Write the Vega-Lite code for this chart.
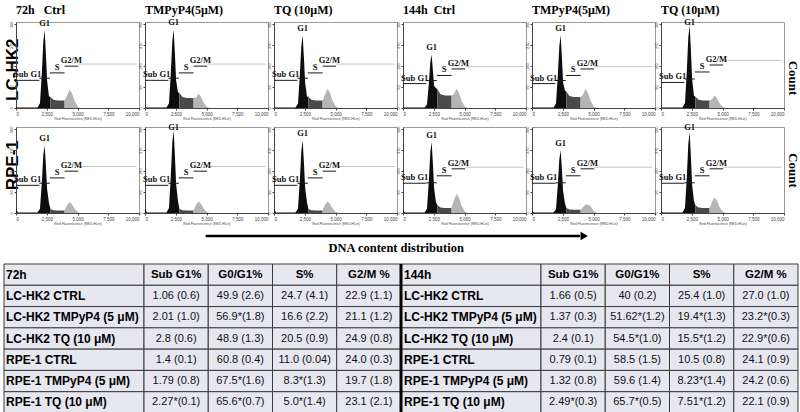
{
"$schema":"https://vega.github.io/schema/vega-lite/v6.json",
"padding":{"left":3,"top":4,"right":0,"bottom":0},
"config":{"view":{"stroke":null},"font":"Liberation Sans"},
"spacing":4,
"datasets":{
"T72":[
{"r":0,"c":"L","v":"72h"},{"r":0,"c":"1","v":"Sub G1%"},{"r":0,"c":"2","v":"G0/G1%"},{"r":0,"c":"3","v":"S%"},{"r":0,"c":"4","v":"G2/M %"},
{"r":1,"c":"L","v":"LC-HK2 CTRL"},{"r":1,"c":"1","v":"1.06 (0.6)"},{"r":1,"c":"2","v":"49.9 (2.6)"},{"r":1,"c":"3","v":"24.7 (4.1)"},{"r":1,"c":"4","v":"22.9 (1.1)"},
{"r":2,"c":"L","v":"LC-HK2 TMPyP4 (5 μM)"},{"r":2,"c":"1","v":"2.01 (1.0)"},{"r":2,"c":"2","v":"56.9*(1.8)"},{"r":2,"c":"3","v":"16.6 (2.2)"},{"r":2,"c":"4","v":"21.1 (1.2)"},
{"r":3,"c":"L","v":"LC-HK2 TQ (10 μM)"},{"r":3,"c":"1","v":"2.8 (0.6)"},{"r":3,"c":"2","v":"48.9 (1.3)"},{"r":3,"c":"3","v":"20.5 (0.9)"},{"r":3,"c":"4","v":"24.9 (0.8)"},
{"r":4,"c":"L","v":"RPE-1 CTRL"},{"r":4,"c":"1","v":"1.4 (0.1)"},{"r":4,"c":"2","v":"60.8 (0.4)"},{"r":4,"c":"3","v":"11.0 (0.04)"},{"r":4,"c":"4","v":"24.0 (0.3)"},
{"r":5,"c":"L","v":"RPE-1 TMPyP4 (5 μM)"},{"r":5,"c":"1","v":"1.79 (0.8)"},{"r":5,"c":"2","v":"67.5*(1.6)"},{"r":5,"c":"3","v":"8.3*(1.3)"},{"r":5,"c":"4","v":"19.7 (1.8)"},
{"r":6,"c":"L","v":"RPE-1 TQ (10 μM)"},{"r":6,"c":"1","v":"2.27*(0.1)"},{"r":6,"c":"2","v":"65.6*(0.7)"},{"r":6,"c":"3","v":"5.0*(1.4)"},{"r":6,"c":"4","v":"23.1 (2.1)"}
],
"T144":[
{"r":0,"c":"L","v":"144h"},{"r":0,"c":"1","v":"Sub G1%"},{"r":0,"c":"2","v":"G0/G1%"},{"r":0,"c":"3","v":"S%"},{"r":0,"c":"4","v":"G2/M %"},
{"r":1,"c":"L","v":"LC-HK2 CTRL"},{"r":1,"c":"1","v":"1.66 (0.5)"},{"r":1,"c":"2","v":"40 (0.2)"},{"r":1,"c":"3","v":"25.4 (1.0)"},{"r":1,"c":"4","v":"27.0 (1.0)"},
{"r":2,"c":"L","v":"LC-HK2 TMPyP4 (5 μM)"},{"r":2,"c":"1","v":"1.37 (0.3)"},{"r":2,"c":"2","v":"51.62*(1.2)"},{"r":2,"c":"3","v":"19.4*(1.3)"},{"r":2,"c":"4","v":"23.2*(0.3)"},
{"r":3,"c":"L","v":"LC-HK2 TQ (10 μM)"},{"r":3,"c":"1","v":"2.4 (0.1)"},{"r":3,"c":"2","v":"54.5*(1.0)"},{"r":3,"c":"3","v":"15.5*(1.2)"},{"r":3,"c":"4","v":"22.9*(0.6)"},
{"r":4,"c":"L","v":"RPE-1 CTRL"},{"r":4,"c":"1","v":"0.79 (0.1)"},{"r":4,"c":"2","v":"58.5 (1.5)"},{"r":4,"c":"3","v":"10.5 (0.8)"},{"r":4,"c":"4","v":"24.1 (0.9)"},
{"r":5,"c":"L","v":"RPE-1 TMPyP4 (5 μM)"},{"r":5,"c":"1","v":"1.32 (0.8)"},{"r":5,"c":"2","v":"59.6 (1.4)"},{"r":5,"c":"3","v":"8.23*(1.4)"},{"r":5,"c":"4","v":"24.2 (0.6)"},
{"r":6,"c":"L","v":"RPE-1 TQ (10 μM)"},{"r":6,"c":"1","v":"2.49*(0.3)"},{"r":6,"c":"2","v":"65.7*(0.5)"},{"r":6,"c":"3","v":"7.51*(1.2)"},{"r":6,"c":"4","v":"22.1 (0.9)"}
]
},
"vconcat":[
{
"hconcat":[
{
"width":12,"height":191,
"data":{"values":[{"r":"LC-HK2"},{"r":"RPE-1"}]},
"mark":{"type":"text","angle":-90,"align":"center","baseline":"middle","dy":2.5,"font":"Liberation Sans","fontSize":17,"fontWeight":"bold","color":"#000"},
"encoding":{"y":{"field":"r","type":"ordinal","axis":null,"scale":{"paddingInner":0.2,"paddingOuter":0}},"text":{"field":"r"}}
},
{
"data":{"values":[
{"k":"h","p":"A","r":"LC-HK2","x":0,"y":3,"c":"a"},{"k":"h","p":"A","r":"LC-HK2","x":150,"y":2,"c":"a"},{"k":"h","p":"A","r":"LC-HK2","x":1750,"y":2,"c":"a"},{"k":"h","p":"A","r":"LC-HK2","x":1950,"y":20,"c":"a"},{"k":"h","p":"A","r":"LC-HK2","x":2100,"y":151,"c":"a"},{"k":"h","p":"A","r":"LC-HK2","x":2220,"y":285,"c":"a"},{"k":"h","p":"A","r":"LC-HK2","x":2330,"y":335,"c":"a"},{"k":"h","p":"A","r":"LC-HK2","x":2430,"y":235,"c":"a"},{"k":"h","p":"A","r":"LC-HK2","x":2530,"y":117,"c":"a"},{"k":"h","p":"A","r":"LC-HK2","x":2680,"y":50,"c":"a"},{"k":"h","p":"A","r":"LC-HK2","x":2800,"y":48,"c":"a"},
{"k":"h","p":"A","r":"LC-HK2","x":2800,"y":48,"c":"b"},{"k":"h","p":"A","r":"LC-HK2","x":3050,"y":35,"c":"b"},{"k":"h","p":"A","r":"LC-HK2","x":3400,"y":32,"c":"b"},{"k":"h","p":"A","r":"LC-HK2","x":3950,"y":32,"c":"b"},
{"k":"h","p":"A","r":"LC-HK2","x":3950,"y":32,"c":"c"},{"k":"h","p":"A","r":"LC-HK2","x":4150,"y":55,"c":"c"},{"k":"h","p":"A","r":"LC-HK2","x":4350,"y":79,"c":"c"},{"k":"h","p":"A","r":"LC-HK2","x":4550,"y":63,"c":"c"},{"k":"h","p":"A","r":"LC-HK2","x":4750,"y":32,"c":"c"},{"k":"h","p":"A","r":"LC-HK2","x":5000,"y":8,"c":"c"},{"k":"h","p":"A","r":"LC-HK2","x":5250,"y":0,"c":"c"},

{"k":"h","p":"B","r":"LC-HK2","x":0,"y":3,"c":"a"},{"k":"h","p":"B","r":"LC-HK2","x":150,"y":2,"c":"a"},{"k":"h","p":"B","r":"LC-HK2","x":1750,"y":2,"c":"a"},{"k":"h","p":"B","r":"LC-HK2","x":1950,"y":20,"c":"a"},{"k":"h","p":"B","r":"LC-HK2","x":2100,"y":152,"c":"a"},{"k":"h","p":"B","r":"LC-HK2","x":2220,"y":287,"c":"a"},{"k":"h","p":"B","r":"LC-HK2","x":2330,"y":338,"c":"a"},{"k":"h","p":"B","r":"LC-HK2","x":2430,"y":237,"c":"a"},{"k":"h","p":"B","r":"LC-HK2","x":2530,"y":118,"c":"a"},{"k":"h","p":"B","r":"LC-HK2","x":2680,"y":68,"c":"a"},{"k":"h","p":"B","r":"LC-HK2","x":2800,"y":65,"c":"a"},
{"k":"h","p":"B","r":"LC-HK2","x":2800,"y":65,"c":"b"},{"k":"h","p":"B","r":"LC-HK2","x":3050,"y":47,"c":"b"},{"k":"h","p":"B","r":"LC-HK2","x":3400,"y":43,"c":"b"},{"k":"h","p":"B","r":"LC-HK2","x":3950,"y":43,"c":"b"},
{"k":"h","p":"B","r":"LC-HK2","x":3950,"y":43,"c":"c"},{"k":"h","p":"B","r":"LC-HK2","x":4150,"y":45,"c":"c"},{"k":"h","p":"B","r":"LC-HK2","x":4350,"y":61,"c":"c"},{"k":"h","p":"B","r":"LC-HK2","x":4550,"y":49,"c":"c"},{"k":"h","p":"B","r":"LC-HK2","x":4750,"y":24,"c":"c"},{"k":"h","p":"B","r":"LC-HK2","x":5000,"y":6,"c":"c"},{"k":"h","p":"B","r":"LC-HK2","x":5250,"y":0,"c":"c"},

{"k":"h","p":"C","r":"LC-HK2","x":0,"y":3,"c":"a"},{"k":"h","p":"C","r":"LC-HK2","x":150,"y":2,"c":"a"},{"k":"h","p":"C","r":"LC-HK2","x":1750,"y":2,"c":"a"},{"k":"h","p":"C","r":"LC-HK2","x":1950,"y":19,"c":"a"},{"k":"h","p":"C","r":"LC-HK2","x":2100,"y":141,"c":"a"},{"k":"h","p":"C","r":"LC-HK2","x":2220,"y":266,"c":"a"},{"k":"h","p":"C","r":"LC-HK2","x":2330,"y":313,"c":"a"},{"k":"h","p":"C","r":"LC-HK2","x":2430,"y":219,"c":"a"},{"k":"h","p":"C","r":"LC-HK2","x":2530,"y":110,"c":"a"},{"k":"h","p":"C","r":"LC-HK2","x":2680,"y":50,"c":"a"},{"k":"h","p":"C","r":"LC-HK2","x":2800,"y":48,"c":"a"},
{"k":"h","p":"C","r":"LC-HK2","x":2800,"y":48,"c":"b"},{"k":"h","p":"C","r":"LC-HK2","x":3050,"y":35,"c":"b"},{"k":"h","p":"C","r":"LC-HK2","x":3400,"y":32,"c":"b"},{"k":"h","p":"C","r":"LC-HK2","x":3950,"y":32,"c":"b"},
{"k":"h","p":"C","r":"LC-HK2","x":3950,"y":32,"c":"c"},{"k":"h","p":"C","r":"LC-HK2","x":4150,"y":58,"c":"c"},{"k":"h","p":"C","r":"LC-HK2","x":4350,"y":83,"c":"c"},{"k":"h","p":"C","r":"LC-HK2","x":4550,"y":66,"c":"c"},{"k":"h","p":"C","r":"LC-HK2","x":4750,"y":33,"c":"c"},{"k":"h","p":"C","r":"LC-HK2","x":5000,"y":8,"c":"c"},{"k":"h","p":"C","r":"LC-HK2","x":5250,"y":0,"c":"c"},

{"k":"h","p":"D","r":"LC-HK2","x":0,"y":3,"c":"a"},{"k":"h","p":"D","r":"LC-HK2","x":150,"y":2,"c":"a"},{"k":"h","p":"D","r":"LC-HK2","x":1750,"y":2,"c":"a"},{"k":"h","p":"D","r":"LC-HK2","x":1950,"y":14,"c":"a"},{"k":"h","p":"D","r":"LC-HK2","x":2100,"y":104,"c":"a"},{"k":"h","p":"D","r":"LC-HK2","x":2220,"y":196,"c":"a"},{"k":"h","p":"D","r":"LC-HK2","x":2330,"y":230,"c":"a"},{"k":"h","p":"D","r":"LC-HK2","x":2430,"y":161,"c":"a"},{"k":"h","p":"D","r":"LC-HK2","x":2530,"y":95,"c":"a"},{"k":"h","p":"D","r":"LC-HK2","x":2680,"y":86,"c":"a"},{"k":"h","p":"D","r":"LC-HK2","x":2800,"y":81,"c":"a"},
{"k":"h","p":"D","r":"LC-HK2","x":2800,"y":81,"c":"b"},{"k":"h","p":"D","r":"LC-HK2","x":3050,"y":59,"c":"b"},{"k":"h","p":"D","r":"LC-HK2","x":3400,"y":54,"c":"b"},{"k":"h","p":"D","r":"LC-HK2","x":3950,"y":54,"c":"b"},
{"k":"h","p":"D","r":"LC-HK2","x":3950,"y":54,"c":"c"},{"k":"h","p":"D","r":"LC-HK2","x":4150,"y":60,"c":"c"},{"k":"h","p":"D","r":"LC-HK2","x":4350,"y":83,"c":"c"},{"k":"h","p":"D","r":"LC-HK2","x":4550,"y":66,"c":"c"},{"k":"h","p":"D","r":"LC-HK2","x":4750,"y":33,"c":"c"},{"k":"h","p":"D","r":"LC-HK2","x":5000,"y":8,"c":"c"},{"k":"h","p":"D","r":"LC-HK2","x":5250,"y":0,"c":"c"},

{"k":"h","p":"E","r":"LC-HK2","x":0,"y":3,"c":"a"},{"k":"h","p":"E","r":"LC-HK2","x":150,"y":2,"c":"a"},{"k":"h","p":"E","r":"LC-HK2","x":1750,"y":2,"c":"a"},{"k":"h","p":"E","r":"LC-HK2","x":1950,"y":19,"c":"a"},{"k":"h","p":"E","r":"LC-HK2","x":2100,"y":141,"c":"a"},{"k":"h","p":"E","r":"LC-HK2","x":2220,"y":266,"c":"a"},{"k":"h","p":"E","r":"LC-HK2","x":2330,"y":313,"c":"a"},{"k":"h","p":"E","r":"LC-HK2","x":2430,"y":219,"c":"a"},{"k":"h","p":"E","r":"LC-HK2","x":2530,"y":110,"c":"a"},{"k":"h","p":"E","r":"LC-HK2","x":2680,"y":75,"c":"a"},{"k":"h","p":"E","r":"LC-HK2","x":2800,"y":70,"c":"a"},
{"k":"h","p":"E","r":"LC-HK2","x":2800,"y":70,"c":"b"},{"k":"h","p":"E","r":"LC-HK2","x":3050,"y":52,"c":"b"},{"k":"h","p":"E","r":"LC-HK2","x":3400,"y":47,"c":"b"},{"k":"h","p":"E","r":"LC-HK2","x":3950,"y":47,"c":"b"},
{"k":"h","p":"E","r":"LC-HK2","x":3950,"y":47,"c":"c"},{"k":"h","p":"E","r":"LC-HK2","x":4150,"y":58,"c":"c"},{"k":"h","p":"E","r":"LC-HK2","x":4350,"y":83,"c":"c"},{"k":"h","p":"E","r":"LC-HK2","x":4550,"y":66,"c":"c"},{"k":"h","p":"E","r":"LC-HK2","x":4750,"y":33,"c":"c"},{"k":"h","p":"E","r":"LC-HK2","x":5000,"y":8,"c":"c"},{"k":"h","p":"E","r":"LC-HK2","x":5250,"y":0,"c":"c"},

{"k":"h","p":"F","r":"LC-HK2","x":0,"y":3,"c":"a"},{"k":"h","p":"F","r":"LC-HK2","x":150,"y":2,"c":"a"},{"k":"h","p":"F","r":"LC-HK2","x":1750,"y":2,"c":"a"},{"k":"h","p":"F","r":"LC-HK2","x":1950,"y":21,"c":"a"},{"k":"h","p":"F","r":"LC-HK2","x":2100,"y":160,"c":"a"},{"k":"h","p":"F","r":"LC-HK2","x":2220,"y":303,"c":"a"},{"k":"h","p":"F","r":"LC-HK2","x":2330,"y":356,"c":"a"},{"k":"h","p":"F","r":"LC-HK2","x":2430,"y":249,"c":"a"},{"k":"h","p":"F","r":"LC-HK2","x":2530,"y":125,"c":"a"},{"k":"h","p":"F","r":"LC-HK2","x":2680,"y":53,"c":"a"},{"k":"h","p":"F","r":"LC-HK2","x":2800,"y":48,"c":"a"},
{"k":"h","p":"F","r":"LC-HK2","x":2800,"y":48,"c":"b"},{"k":"h","p":"F","r":"LC-HK2","x":3050,"y":35,"c":"b"},{"k":"h","p":"F","r":"LC-HK2","x":3400,"y":32,"c":"b"},{"k":"h","p":"F","r":"LC-HK2","x":3950,"y":32,"c":"b"},
{"k":"h","p":"F","r":"LC-HK2","x":3950,"y":32,"c":"c"},{"k":"h","p":"F","r":"LC-HK2","x":4150,"y":38,"c":"c"},{"k":"h","p":"F","r":"LC-HK2","x":4350,"y":54,"c":"c"},{"k":"h","p":"F","r":"LC-HK2","x":4550,"y":43,"c":"c"},{"k":"h","p":"F","r":"LC-HK2","x":4750,"y":22,"c":"c"},{"k":"h","p":"F","r":"LC-HK2","x":5000,"y":5,"c":"c"},{"k":"h","p":"F","r":"LC-HK2","x":5250,"y":0,"c":"c"},

{"k":"h","p":"A","r":"RPE-1","x":0,"y":18,"c":"a"},{"k":"h","p":"A","r":"RPE-1","x":150,"y":2,"c":"a"},{"k":"h","p":"A","r":"RPE-1","x":1750,"y":2,"c":"a"},{"k":"h","p":"A","r":"RPE-1","x":1950,"y":18,"c":"a"},{"k":"h","p":"A","r":"RPE-1","x":2100,"y":131,"c":"a"},{"k":"h","p":"A","r":"RPE-1","x":2220,"y":248,"c":"a"},{"k":"h","p":"A","r":"RPE-1","x":2330,"y":292,"c":"a"},{"k":"h","p":"A","r":"RPE-1","x":2430,"y":204,"c":"a"},{"k":"h","p":"A","r":"RPE-1","x":2530,"y":102,"c":"a"},{"k":"h","p":"A","r":"RPE-1","x":2680,"y":44,"c":"a"},{"k":"h","p":"A","r":"RPE-1","x":2800,"y":17,"c":"a"},
{"k":"h","p":"A","r":"RPE-1","x":2800,"y":17,"c":"b"},{"k":"h","p":"A","r":"RPE-1","x":3050,"y":12,"c":"b"},{"k":"h","p":"A","r":"RPE-1","x":3400,"y":11,"c":"b"},{"k":"h","p":"A","r":"RPE-1","x":3950,"y":11,"c":"b"},
{"k":"h","p":"A","r":"RPE-1","x":3950,"y":11,"c":"c"},{"k":"h","p":"A","r":"RPE-1","x":4150,"y":33,"c":"c"},{"k":"h","p":"A","r":"RPE-1","x":4350,"y":47,"c":"c"},{"k":"h","p":"A","r":"RPE-1","x":4550,"y":38,"c":"c"},{"k":"h","p":"A","r":"RPE-1","x":4750,"y":19,"c":"c"},{"k":"h","p":"A","r":"RPE-1","x":5000,"y":5,"c":"c"},{"k":"h","p":"A","r":"RPE-1","x":5250,"y":0,"c":"c"},

{"k":"h","p":"B","r":"RPE-1","x":0,"y":18,"c":"a"},{"k":"h","p":"B","r":"RPE-1","x":150,"y":2,"c":"a"},{"k":"h","p":"B","r":"RPE-1","x":1750,"y":2,"c":"a"},{"k":"h","p":"B","r":"RPE-1","x":1950,"y":21,"c":"a"},{"k":"h","p":"B","r":"RPE-1","x":2100,"y":160,"c":"a"},{"k":"h","p":"B","r":"RPE-1","x":2220,"y":303,"c":"a"},{"k":"h","p":"B","r":"RPE-1","x":2330,"y":356,"c":"a"},{"k":"h","p":"B","r":"RPE-1","x":2430,"y":249,"c":"a"},{"k":"h","p":"B","r":"RPE-1","x":2530,"y":125,"c":"a"},{"k":"h","p":"B","r":"RPE-1","x":2680,"y":53,"c":"a"},{"k":"h","p":"B","r":"RPE-1","x":2800,"y":17,"c":"a"},
{"k":"h","p":"B","r":"RPE-1","x":2800,"y":17,"c":"b"},{"k":"h","p":"B","r":"RPE-1","x":3050,"y":12,"c":"b"},{"k":"h","p":"B","r":"RPE-1","x":3400,"y":11,"c":"b"},{"k":"h","p":"B","r":"RPE-1","x":3950,"y":11,"c":"b"},
{"k":"h","p":"B","r":"RPE-1","x":3950,"y":11,"c":"c"},{"k":"h","p":"B","r":"RPE-1","x":4150,"y":35,"c":"c"},{"k":"h","p":"B","r":"RPE-1","x":4350,"y":50,"c":"c"},{"k":"h","p":"B","r":"RPE-1","x":4550,"y":40,"c":"c"},{"k":"h","p":"B","r":"RPE-1","x":4750,"y":20,"c":"c"},{"k":"h","p":"B","r":"RPE-1","x":5000,"y":5,"c":"c"},{"k":"h","p":"B","r":"RPE-1","x":5250,"y":0,"c":"c"},

{"k":"h","p":"C","r":"RPE-1","x":0,"y":18,"c":"a"},{"k":"h","p":"C","r":"RPE-1","x":150,"y":2,"c":"a"},{"k":"h","p":"C","r":"RPE-1","x":1750,"y":2,"c":"a"},{"k":"h","p":"C","r":"RPE-1","x":1950,"y":19,"c":"a"},{"k":"h","p":"C","r":"RPE-1","x":2100,"y":141,"c":"a"},{"k":"h","p":"C","r":"RPE-1","x":2220,"y":266,"c":"a"},{"k":"h","p":"C","r":"RPE-1","x":2330,"y":313,"c":"a"},{"k":"h","p":"C","r":"RPE-1","x":2430,"y":219,"c":"a"},{"k":"h","p":"C","r":"RPE-1","x":2530,"y":110,"c":"a"},{"k":"h","p":"C","r":"RPE-1","x":2680,"y":47,"c":"a"},{"k":"h","p":"C","r":"RPE-1","x":2800,"y":17,"c":"a"},
{"k":"h","p":"C","r":"RPE-1","x":2800,"y":17,"c":"b"},{"k":"h","p":"C","r":"RPE-1","x":3050,"y":12,"c":"b"},{"k":"h","p":"C","r":"RPE-1","x":3400,"y":11,"c":"b"},{"k":"h","p":"C","r":"RPE-1","x":3950,"y":11,"c":"b"},
{"k":"h","p":"C","r":"RPE-1","x":3950,"y":11,"c":"c"},{"k":"h","p":"C","r":"RPE-1","x":4150,"y":35,"c":"c"},{"k":"h","p":"C","r":"RPE-1","x":4350,"y":50,"c":"c"},{"k":"h","p":"C","r":"RPE-1","x":4550,"y":40,"c":"c"},{"k":"h","p":"C","r":"RPE-1","x":4750,"y":20,"c":"c"},{"k":"h","p":"C","r":"RPE-1","x":5000,"y":5,"c":"c"},{"k":"h","p":"C","r":"RPE-1","x":5250,"y":0,"c":"c"},

{"k":"h","p":"D","r":"RPE-1","x":0,"y":10,"c":"a"},{"k":"h","p":"D","r":"RPE-1","x":150,"y":2,"c":"a"},{"k":"h","p":"D","r":"RPE-1","x":1750,"y":2,"c":"a"},{"k":"h","p":"D","r":"RPE-1","x":1950,"y":18,"c":"a"},{"k":"h","p":"D","r":"RPE-1","x":2100,"y":138,"c":"a"},{"k":"h","p":"D","r":"RPE-1","x":2220,"y":260,"c":"a"},{"k":"h","p":"D","r":"RPE-1","x":2330,"y":306,"c":"a"},{"k":"h","p":"D","r":"RPE-1","x":2430,"y":214,"c":"a"},{"k":"h","p":"D","r":"RPE-1","x":2530,"y":107,"c":"a"},{"k":"h","p":"D","r":"RPE-1","x":2680,"y":46,"c":"a"},{"k":"h","p":"D","r":"RPE-1","x":2800,"y":33,"c":"a"},
{"k":"h","p":"D","r":"RPE-1","x":2800,"y":33,"c":"b"},{"k":"h","p":"D","r":"RPE-1","x":3050,"y":24,"c":"b"},{"k":"h","p":"D","r":"RPE-1","x":3400,"y":22,"c":"b"},{"k":"h","p":"D","r":"RPE-1","x":3950,"y":22,"c":"b"},
{"k":"h","p":"D","r":"RPE-1","x":3950,"y":22,"c":"c"},{"k":"h","p":"D","r":"RPE-1","x":4150,"y":57,"c":"c"},{"k":"h","p":"D","r":"RPE-1","x":4350,"y":82,"c":"c"},{"k":"h","p":"D","r":"RPE-1","x":4550,"y":66,"c":"c"},{"k":"h","p":"D","r":"RPE-1","x":4750,"y":33,"c":"c"},{"k":"h","p":"D","r":"RPE-1","x":5000,"y":8,"c":"c"},{"k":"h","p":"D","r":"RPE-1","x":5250,"y":0,"c":"c"},

{"k":"h","p":"E","r":"RPE-1","x":0,"y":10,"c":"a"},{"k":"h","p":"E","r":"RPE-1","x":150,"y":2,"c":"a"},{"k":"h","p":"E","r":"RPE-1","x":1750,"y":2,"c":"a"},{"k":"h","p":"E","r":"RPE-1","x":1950,"y":16,"c":"a"},{"k":"h","p":"E","r":"RPE-1","x":2100,"y":122,"c":"a"},{"k":"h","p":"E","r":"RPE-1","x":2220,"y":230,"c":"a"},{"k":"h","p":"E","r":"RPE-1","x":2330,"y":270,"c":"a"},{"k":"h","p":"E","r":"RPE-1","x":2430,"y":189,"c":"a"},{"k":"h","p":"E","r":"RPE-1","x":2530,"y":95,"c":"a"},{"k":"h","p":"E","r":"RPE-1","x":2680,"y":41,"c":"a"},{"k":"h","p":"E","r":"RPE-1","x":2800,"y":21,"c":"a"},
{"k":"h","p":"E","r":"RPE-1","x":2800,"y":21,"c":"b"},{"k":"h","p":"E","r":"RPE-1","x":3050,"y":15,"c":"b"},{"k":"h","p":"E","r":"RPE-1","x":3400,"y":14,"c":"b"},{"k":"h","p":"E","r":"RPE-1","x":3950,"y":14,"c":"b"},
{"k":"h","p":"E","r":"RPE-1","x":3950,"y":14,"c":"c"},{"k":"h","p":"E","r":"RPE-1","x":4150,"y":26,"c":"c"},{"k":"h","p":"E","r":"RPE-1","x":4350,"y":37,"c":"c"},{"k":"h","p":"E","r":"RPE-1","x":4550,"y":35,"c":"c"},{"k":"h","p":"E","r":"RPE-1","x":4750,"y":30,"c":"c"},{"k":"h","p":"E","r":"RPE-1","x":5000,"y":10,"c":"c"},{"k":"h","p":"E","r":"RPE-1","x":5250,"y":0,"c":"c"},

{"k":"h","p":"F","r":"RPE-1","x":0,"y":10,"c":"a"},{"k":"h","p":"F","r":"RPE-1","x":150,"y":2,"c":"a"},{"k":"h","p":"F","r":"RPE-1","x":1750,"y":2,"c":"a"},{"k":"h","p":"F","r":"RPE-1","x":1950,"y":21,"c":"a"},{"k":"h","p":"F","r":"RPE-1","x":2100,"y":157,"c":"a"},{"k":"h","p":"F","r":"RPE-1","x":2220,"y":297,"c":"a"},{"k":"h","p":"F","r":"RPE-1","x":2330,"y":349,"c":"a"},{"k":"h","p":"F","r":"RPE-1","x":2430,"y":244,"c":"a"},{"k":"h","p":"F","r":"RPE-1","x":2530,"y":122,"c":"a"},{"k":"h","p":"F","r":"RPE-1","x":2680,"y":52,"c":"a"},{"k":"h","p":"F","r":"RPE-1","x":2800,"y":33,"c":"a"},
{"k":"h","p":"F","r":"RPE-1","x":2800,"y":33,"c":"b"},{"k":"h","p":"F","r":"RPE-1","x":3050,"y":24,"c":"b"},{"k":"h","p":"F","r":"RPE-1","x":3400,"y":22,"c":"b"},{"k":"h","p":"F","r":"RPE-1","x":3950,"y":22,"c":"b"},
{"k":"h","p":"F","r":"RPE-1","x":3950,"y":22,"c":"c"},{"k":"h","p":"F","r":"RPE-1","x":4150,"y":48,"c":"c"},{"k":"h","p":"F","r":"RPE-1","x":4350,"y":68,"c":"c"},{"k":"h","p":"F","r":"RPE-1","x":4550,"y":54,"c":"c"},{"k":"h","p":"F","r":"RPE-1","x":4750,"y":27,"c":"c"},{"k":"h","p":"F","r":"RPE-1","x":5000,"y":7,"c":"c"},{"k":"h","p":"F","r":"RPE-1","x":5250,"y":0,"c":"c"},

{"k":"g","p":"A","r":"LC-HK2","x":0,"x2":1900,"y":119,"c":"d"},{"k":"g","p":"A","r":"LC-HK2","x":1900,"x2":2750,"y":128,"c":"d"},{"k":"g","p":"A","r":"LC-HK2","x":2750,"x2":3950,"y":151,"c":"d"},{"k":"g","p":"A","r":"LC-HK2","x":3950,"x2":5050,"y":180,"c":"d"},{"k":"g","p":"A","r":"LC-HK2","x":5050,"x2":9800,"y":189,"c":"e"},
{"k":"g","p":"B","r":"LC-HK2","x":0,"x2":1900,"y":119,"c":"d"},{"k":"g","p":"B","r":"LC-HK2","x":1900,"x2":2750,"y":128,"c":"d"},{"k":"g","p":"B","r":"LC-HK2","x":2750,"x2":3950,"y":151,"c":"d"},{"k":"g","p":"B","r":"LC-HK2","x":3950,"x2":5050,"y":180,"c":"d"},{"k":"g","p":"B","r":"LC-HK2","x":5050,"x2":9800,"y":189,"c":"e"},
{"k":"g","p":"C","r":"LC-HK2","x":0,"x2":1900,"y":119,"c":"d"},{"k":"g","p":"C","r":"LC-HK2","x":1900,"x2":2750,"y":128,"c":"d"},{"k":"g","p":"C","r":"LC-HK2","x":2750,"x2":3950,"y":151,"c":"d"},{"k":"g","p":"C","r":"LC-HK2","x":3950,"x2":5050,"y":180,"c":"d"},{"k":"g","p":"C","r":"LC-HK2","x":5050,"x2":9800,"y":189,"c":"e"},
{"k":"g","p":"D","r":"LC-HK2","x":0,"x2":1900,"y":105,"c":"d"},{"k":"g","p":"D","r":"LC-HK2","x":1900,"x2":2750,"y":118,"c":"d"},{"k":"g","p":"D","r":"LC-HK2","x":2750,"x2":3950,"y":140,"c":"d"},{"k":"g","p":"D","r":"LC-HK2","x":3950,"x2":5050,"y":168,"c":"d"},{"k":"g","p":"D","r":"LC-HK2","x":5050,"x2":9800,"y":178,"c":"e"},
{"k":"g","p":"E","r":"LC-HK2","x":0,"x2":1900,"y":105,"c":"d"},{"k":"g","p":"E","r":"LC-HK2","x":1900,"x2":2750,"y":118,"c":"d"},{"k":"g","p":"E","r":"LC-HK2","x":2750,"x2":3950,"y":140,"c":"d"},{"k":"g","p":"E","r":"LC-HK2","x":3950,"x2":5050,"y":168,"c":"d"},{"k":"g","p":"E","r":"LC-HK2","x":5050,"x2":9800,"y":178,"c":"e"},
{"k":"g","p":"F","r":"LC-HK2","x":0,"x2":1900,"y":110,"c":"d"},{"k":"g","p":"F","r":"LC-HK2","x":1900,"x2":2750,"y":125,"c":"d"},{"k":"g","p":"F","r":"LC-HK2","x":2750,"x2":3950,"y":155,"c":"d"},{"k":"g","p":"F","r":"LC-HK2","x":3950,"x2":5050,"y":185,"c":"d"},{"k":"g","p":"F","r":"LC-HK2","x":5050,"x2":9800,"y":205,"c":"e"},
{"k":"g","p":"A","r":"RPE-1","x":0,"x2":1900,"y":119,"c":"d"},{"k":"g","p":"A","r":"RPE-1","x":1900,"x2":2750,"y":128,"c":"d"},{"k":"g","p":"A","r":"RPE-1","x":2750,"x2":3950,"y":151,"c":"d"},{"k":"g","p":"A","r":"RPE-1","x":3950,"x2":5050,"y":180,"c":"d"},{"k":"g","p":"A","r":"RPE-1","x":5050,"x2":9800,"y":200,"c":"e"},
{"k":"g","p":"B","r":"RPE-1","x":0,"x2":1900,"y":119,"c":"d"},{"k":"g","p":"B","r":"RPE-1","x":1900,"x2":2750,"y":128,"c":"d"},{"k":"g","p":"B","r":"RPE-1","x":2750,"x2":3950,"y":151,"c":"d"},{"k":"g","p":"B","r":"RPE-1","x":3950,"x2":5050,"y":180,"c":"d"},{"k":"g","p":"B","r":"RPE-1","x":5050,"x2":9800,"y":200,"c":"e"},
{"k":"g","p":"C","r":"RPE-1","x":0,"x2":1900,"y":119,"c":"d"},{"k":"g","p":"C","r":"RPE-1","x":1900,"x2":2750,"y":128,"c":"d"},{"k":"g","p":"C","r":"RPE-1","x":2750,"x2":3950,"y":151,"c":"d"},{"k":"g","p":"C","r":"RPE-1","x":3950,"x2":5050,"y":180,"c":"d"},{"k":"g","p":"C","r":"RPE-1","x":5050,"x2":9800,"y":200,"c":"e"},
{"k":"g","p":"D","r":"RPE-1","x":0,"x2":1900,"y":128,"c":"d"},{"k":"g","p":"D","r":"RPE-1","x":1900,"x2":2750,"y":130,"c":"d"},{"k":"g","p":"D","r":"RPE-1","x":2750,"x2":3950,"y":160,"c":"d"},{"k":"g","p":"D","r":"RPE-1","x":3950,"x2":5050,"y":190,"c":"d"},{"k":"g","p":"D","r":"RPE-1","x":5050,"x2":9800,"y":197,"c":"e"},
{"k":"g","p":"E","r":"RPE-1","x":0,"x2":1900,"y":128,"c":"d"},{"k":"g","p":"E","r":"RPE-1","x":1900,"x2":2750,"y":130,"c":"d"},{"k":"g","p":"E","r":"RPE-1","x":2750,"x2":3950,"y":160,"c":"d"},{"k":"g","p":"E","r":"RPE-1","x":3950,"x2":5050,"y":190,"c":"d"},{"k":"g","p":"E","r":"RPE-1","x":5050,"x2":9800,"y":197,"c":"e"},
{"k":"g","p":"F","r":"RPE-1","x":0,"x2":1900,"y":128,"c":"d"},{"k":"g","p":"F","r":"RPE-1","x":1900,"x2":2750,"y":130,"c":"d"},{"k":"g","p":"F","r":"RPE-1","x":2750,"x2":3950,"y":160,"c":"d"},{"k":"g","p":"F","r":"RPE-1","x":3950,"x2":5050,"y":190,"c":"d"},{"k":"g","p":"F","r":"RPE-1","x":5050,"x2":9800,"y":197,"c":"e"},

{"k":"t","p":"A","r":"LC-HK2","x":950,"y":119,"t":"Sub G1"},{"k":"t","p":"A","r":"LC-HK2","x":3350,"y":151,"t":"S"},{"k":"t","p":"A","r":"LC-HK2","x":4500,"y":180,"t":"G2/M"},{"k":"t","p":"A","r":"LC-HK2","x":2330,"y":340,"t":"G1"},
{"k":"t","p":"B","r":"LC-HK2","x":950,"y":119,"t":"Sub G1"},{"k":"t","p":"B","r":"LC-HK2","x":3350,"y":151,"t":"S"},{"k":"t","p":"B","r":"LC-HK2","x":4500,"y":180,"t":"G2/M"},{"k":"t","p":"B","r":"LC-HK2","x":2330,"y":343,"t":"G1"},
{"k":"t","p":"C","r":"LC-HK2","x":950,"y":119,"t":"Sub G1"},{"k":"t","p":"C","r":"LC-HK2","x":3350,"y":151,"t":"S"},{"k":"t","p":"C","r":"LC-HK2","x":4500,"y":180,"t":"G2/M"},{"k":"t","p":"C","r":"LC-HK2","x":2330,"y":318,"t":"G1"},
{"k":"t","p":"D","r":"LC-HK2","x":950,"y":105,"t":"Sub G1"},{"k":"t","p":"D","r":"LC-HK2","x":3350,"y":140,"t":"S"},{"k":"t","p":"D","r":"LC-HK2","x":4500,"y":168,"t":"G2/M"},{"k":"t","p":"D","r":"LC-HK2","x":2330,"y":235,"t":"G1"},
{"k":"t","p":"E","r":"LC-HK2","x":950,"y":105,"t":"Sub G1"},{"k":"t","p":"E","r":"LC-HK2","x":3350,"y":140,"t":"S"},{"k":"t","p":"E","r":"LC-HK2","x":4500,"y":168,"t":"G2/M"},{"k":"t","p":"E","r":"LC-HK2","x":2330,"y":318,"t":"G1"},
{"k":"t","p":"F","r":"LC-HK2","x":950,"y":110,"t":"Sub G1"},{"k":"t","p":"F","r":"LC-HK2","x":3350,"y":155,"t":"S"},{"k":"t","p":"F","r":"LC-HK2","x":4500,"y":185,"t":"G2/M"},{"k":"t","p":"F","r":"LC-HK2","x":2330,"y":345,"t":"G1"},
{"k":"t","p":"A","r":"RPE-1","x":950,"y":119,"t":"Sub G1"},{"k":"t","p":"A","r":"RPE-1","x":3350,"y":151,"t":"S"},{"k":"t","p":"A","r":"RPE-1","x":4500,"y":180,"t":"G2/M"},{"k":"t","p":"A","r":"RPE-1","x":2330,"y":297,"t":"G1"},
{"k":"t","p":"B","r":"RPE-1","x":950,"y":119,"t":"Sub G1"},{"k":"t","p":"B","r":"RPE-1","x":3350,"y":151,"t":"S"},{"k":"t","p":"B","r":"RPE-1","x":4500,"y":180,"t":"G2/M"},{"k":"t","p":"B","r":"RPE-1","x":2330,"y":345,"t":"G1"},
{"k":"t","p":"C","r":"RPE-1","x":950,"y":119,"t":"Sub G1"},{"k":"t","p":"C","r":"RPE-1","x":3350,"y":151,"t":"S"},{"k":"t","p":"C","r":"RPE-1","x":4500,"y":180,"t":"G2/M"},{"k":"t","p":"C","r":"RPE-1","x":2330,"y":318,"t":"G1"},
{"k":"t","p":"D","r":"RPE-1","x":950,"y":128,"t":"Sub G1"},{"k":"t","p":"D","r":"RPE-1","x":3350,"y":160,"t":"S"},{"k":"t","p":"D","r":"RPE-1","x":4500,"y":190,"t":"G2/M"},{"k":"t","p":"D","r":"RPE-1","x":2330,"y":311,"t":"G1"},
{"k":"t","p":"E","r":"RPE-1","x":950,"y":128,"t":"Sub G1"},{"k":"t","p":"E","r":"RPE-1","x":3350,"y":160,"t":"S"},{"k":"t","p":"E","r":"RPE-1","x":4500,"y":190,"t":"G2/M"},{"k":"t","p":"E","r":"RPE-1","x":2330,"y":275,"t":"G1"},
{"k":"t","p":"F","r":"RPE-1","x":950,"y":128,"t":"Sub G1"},{"k":"t","p":"F","r":"RPE-1","x":3350,"y":160,"t":"S"},{"k":"t","p":"F","r":"RPE-1","x":4500,"y":190,"t":"G2/M"},{"k":"t","p":"F","r":"RPE-1","x":2330,"y":345,"t":"G1"},

{"k":"n","p":"F","r":"LC-HK2","x":10700,"y":129,"t":"Count"},
{"k":"n","p":"F","r":"RPE-1","x":10700,"y":183,"t":"Count"}
]},
"facet":{
"row":{"field":"r","type":"nominal","sort":["LC-HK2","RPE-1"],"header":null},
"column":{"field":"p","type":"nominal","sort":["A","B","C","D","E","F"],"header":{"title":null,"labelFont":"Liberation Serif","labelFontSize":12,"labelFontWeight":"bold","labelColor":"#000","labelAnchor":"start","labelAlign":"left","labelPadding":5,
"labelExpr":"datum.value=='A'?'72h\u00a0\u00a0\u00a0Ctrl':datum.value=='B'?'TMPyP4(5μM)':datum.value=='C'?'TQ (10μM)':datum.value=='D'?'144h\u00a0\u00a0Ctrl':datum.value=='E'?'TMPyP4(5μM)':'TQ (10μM)'"}}
},
"spacing":{"row":19,"column":6},
"bounds":"flush",
"resolve":{"axis":{"x":"independent","y":"independent"}},
"spec":{
"width":123,"height":86,
"view":{"stroke":"#9a9a9a"},
"encoding":{
"x":{"field":"x","type":"quantitative","scale":{"domain":[0,10000],"nice":false,"zero":false},
"axis":{"values":[0,2500,5000,7500,10000],"labelFontSize":4.5,"labelColor":"#444","tickSize":2,"tickColor":"#444","domainColor":"#444","labelPadding":1,"grid":false,"title":"Red Fluorescence (RED-HLin)","titleFontSize":3.5,"titleFontWeight":"normal","titleColor":"#444","titlePadding":1}},
"y":{"field":"y","type":"quantitative","stack":null,"scale":{"domain":[0,370],"nice":false},
"axis":{"values":[0,90,180,270,360],"labelFontSize":4,"labelColor":"#444","labelAngle":-90,"tickSize":2,"tickColor":"#444","domainColor":"#444","labelPadding":1,"grid":false,"title":null}}
},
"layer":[
{"transform":[{"filter":"datum.k=='h'"}],"mark":{"type":"area","interpolate":"linear"},
"encoding":{"color":{"field":"c","type":"nominal","legend":null,"scale":{"domain":["a","b","c","d","e"],"range":["#0d0d0d","#4a4a4a","#b5b5b5","#1a1a1a","#c4c4c4"]}}}},
{"transform":[{"filter":"datum.k=='g'"}],"mark":{"type":"rule","strokeWidth":1},
"encoding":{"x2":{"field":"x2"},"color":{"field":"c","type":"nominal","legend":null}}},
{"transform":[{"filter":"datum.k=='t'"}],"mark":{"type":"text","font":"Liberation Serif","fontWeight":"bold","fontSize":8.5,"baseline":"bottom","dy":-1,"color":"#111"},
"encoding":{"text":{"field":"t"}}},
{"transform":[{"filter":"datum.k=='n'"}],"mark":{"type":"text","font":"Liberation Serif","fontWeight":"bold","fontSize":13,"angle":90,"align":"center","baseline":"middle","color":"#000"},
"encoding":{"text":{"field":"t"}}}
]
}
}
],
"spacing":0,
"bounds":"flush"
},
{
"width":797,"height":28,
"data":{"values":[{"a":1}]},
"layer":[
{"mark":{"type":"rule","strokeWidth":2.5,"color":"#000"},
"encoding":{"x":{"datum":25.3,"type":"quantitative","scale":{"domain":[0,100]},"axis":null},"x2":{"datum":72.3},"y":{"datum":1.571,"type":"quantitative","scale":{"domain":[0,2]},"axis":null}}},
{"mark":{"type":"point","shape":"triangle-right","filled":true,"size":70,"color":"#000","opacity":1},
"encoding":{"x":{"datum":72.8,"type":"quantitative"},"y":{"datum":1.571,"type":"quantitative"}}},
{"mark":{"type":"text","text":"DNA content distribution","font":"Liberation Serif","fontWeight":"bold","fontSize":12.5,"color":"#000"},
"encoding":{"x":{"datum":49.2,"type":"quantitative"},"y":{"datum":0.714,"type":"quantitative"}}}
]
},
{
"hconcat":[
{"data":{"name":"T72"},"transform":[{"filter":"datum.c=='L'"}],"width":140,"height":149,
"encoding":{"x":{"field":"c","type":"nominal","axis":null,"scale":{"paddingInner":0,"paddingOuter":0}},"y":{"field":"r","type":"ordinal","axis":null,"scale":{"paddingInner":0,"paddingOuter":0}}},
"layer":[
{"mark":{"type":"rect","fill":"#e7e7f0","stroke":"#3a3a3a","strokeWidth":1}},
{"mark":{"type":"text","align":"left","dx":2,"font":"Liberation Sans","fontWeight":"bold","fontSize":12,"color":"#000"},"encoding":{"x":{"field":"c","type":"nominal","bandPosition":0},"text":{"field":"v"}}}
]},
{"data":{"name":"T72"},"transform":[{"filter":"datum.c!='L'"}],"width":257,"height":149,
"encoding":{"x":{"field":"c","type":"nominal","sort":["1","2","3","4"],"axis":null,"scale":{"paddingInner":0,"paddingOuter":0}},"y":{"field":"r","type":"ordinal","axis":null,"scale":{"paddingInner":0,"paddingOuter":0}}},
"layer":[
{"mark":{"type":"rect","fill":"#e7e7f0","stroke":"#3a3a3a","strokeWidth":1}},
{"transform":[{"filter":"datum.r==0"}],"mark":{"type":"text","font":"Liberation Sans","fontWeight":"bold","fontSize":11.5,"color":"#000"},"encoding":{"text":{"field":"v"}}},
{"transform":[{"filter":"datum.r>0"}],"mark":{"type":"text","font":"Liberation Sans","fontSize":11,"color":"#111"},"encoding":{"text":{"field":"v"}}}
]},
{"data":{"name":"T144"},"transform":[{"filter":"datum.c=='L'"}],"width":140,"height":149,
"encoding":{"x":{"field":"c","type":"nominal","axis":null,"scale":{"paddingInner":0,"paddingOuter":0}},"y":{"field":"r","type":"ordinal","axis":null,"scale":{"paddingInner":0,"paddingOuter":0}}},
"layer":[
{"mark":{"type":"rect","fill":"#e7e7f0","stroke":"#3a3a3a","strokeWidth":1}},
{"mark":{"type":"text","align":"left","dx":3,"font":"Liberation Sans","fontWeight":"bold","fontSize":12,"color":"#000"},"encoding":{"x":{"field":"c","type":"nominal","bandPosition":0},"text":{"field":"v"}}},
{"transform":[{"filter":"datum.r==0"}],"mark":{"type":"rule","strokeWidth":3,"color":"#000"},"encoding":{"x":{"field":"c","type":"nominal","bandPosition":0},"y":null}}
]},
{"data":{"name":"T144"},"transform":[{"filter":"datum.c!='L'"}],"width":257,"height":149,
"encoding":{"x":{"field":"c","type":"nominal","sort":["1","2","3","4"],"axis":null,"scale":{"paddingInner":0,"paddingOuter":0}},"y":{"field":"r","type":"ordinal","axis":null,"scale":{"paddingInner":0,"paddingOuter":0}}},
"layer":[
{"mark":{"type":"rect","fill":"#e7e7f0","stroke":"#3a3a3a","strokeWidth":1}},
{"transform":[{"filter":"datum.r==0"}],"mark":{"type":"text","font":"Liberation Sans","fontWeight":"bold","fontSize":11.5,"color":"#000"},"encoding":{"text":{"field":"v"}}},
{"transform":[{"filter":"datum.r>0"}],"mark":{"type":"text","font":"Liberation Sans","fontSize":11,"color":"#111"},"encoding":{"text":{"field":"v"}}}
]}
],
"spacing":0,
"bounds":"flush"
}
]
}
